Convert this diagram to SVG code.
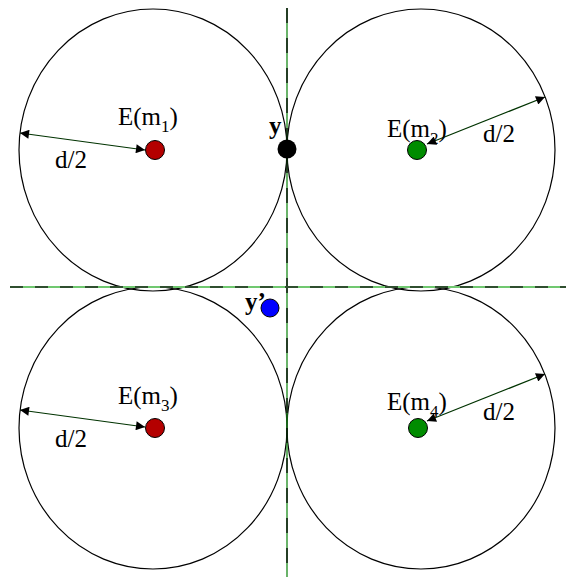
<svg xmlns="http://www.w3.org/2000/svg" width="566" height="577" viewBox="0 0 566 577">
<defs>
<style>
.circ{fill:none;stroke:#000;stroke-width:1.2}
.lbl{font-family:"Liberation Serif","Times New Roman",serif;font-size:25px;fill:#000}
.sub{font-size:17px}
.arr{stroke:#003300;stroke-width:1.2;fill:none;marker-start:url(#ah);marker-end:url(#ah)}
.red{fill:#b40000;stroke:#000;stroke-width:1}
.grn{fill:#008c00;stroke:#000;stroke-width:1}
</style>
<marker id="ah" viewBox="0 0 10 10" refX="10" refY="5" markerWidth="18" markerHeight="9" markerUnits="userSpaceOnUse" orient="auto-start-reverse">
<path d="M0,0 L10,5 L0,10 z" fill="#000"/>
</marker>
</defs>
<rect width="566" height="577" fill="#fff"/>
<g id="circles">
<ellipse id="c1" class="circ" cx="153" cy="150" rx="134" ry="141"/>
<ellipse id="c2" class="circ" cx="421" cy="150" rx="134" ry="141"/>
<ellipse id="c3" class="circ" cx="153" cy="428" rx="134" ry="141"/>
<ellipse id="c4" class="circ" cx="421" cy="428" rx="134" ry="141"/>
</g>
<g id="connectors">
<line x1="287" y1="8" x2="287" y2="577" stroke="#1a8a1a" stroke-width="1.3"/>
<line x1="287" y1="8" x2="287" y2="577" stroke="#000" stroke-width="1.3" stroke-dasharray="15,15"/>
<line x1="10" y1="287" x2="566" y2="287" stroke="#70c870" stroke-width="2"/>
<line x1="10" y1="287" x2="566" y2="287" stroke="#2f4f2f" stroke-width="2" stroke-dasharray="13,12"/>
<line class="arr" x1="20" y1="133" x2="145" y2="150"/>
<line class="arr" x1="427" y1="144" x2="545" y2="97"/>
<line class="arr" x1="20" y1="410" x2="145" y2="427"/>
<line class="arr" x1="427" y1="421" x2="545" y2="374"/>
</g>
<g id="m1">
<circle class="red" cx="155" cy="150" r="9.5"/>
<text class="lbl" x="118" y="125">E(m<tspan class="sub" dy="7">1</tspan><tspan dy="-7">)</tspan></text>
<text class="lbl" x="55" y="168">d/2</text>
</g>
<g id="m2">
<circle class="grn" cx="417" cy="150" r="9.5"/>
<text class="lbl" x="387" y="137">E(m<tspan class="sub" dy="7">2</tspan><tspan dy="-7">)</tspan></text>
<text class="lbl" x="483" y="142">d/2</text>
</g>
<g id="m3">
<circle class="red" cx="155" cy="428" r="9.5"/>
<text class="lbl" x="118" y="404">E(m<tspan class="sub" dy="7">3</tspan><tspan dy="-7">)</tspan></text>
<text class="lbl" x="55" y="447">d/2</text>
</g>
<g id="m4">
<circle class="grn" cx="418" cy="428" r="9.5"/>
<text class="lbl" x="387" y="410">E(m<tspan class="sub" dy="7">4</tspan><tspan dy="-7">)</tspan></text>
<text class="lbl" x="483" y="420">d/2</text>
</g>
<g id="y">
<circle cx="287" cy="149" r="9.5" fill="#000"/>
<text class="lbl" x="269" y="134" font-weight="bold">y</text>
</g>
<g id="yprime">
<circle cx="270" cy="308" r="9" fill="#0000ff" stroke="#000" stroke-width="1"/>
<text class="lbl" x="245" y="310" font-weight="bold">y’</text>
</g>
</svg>
